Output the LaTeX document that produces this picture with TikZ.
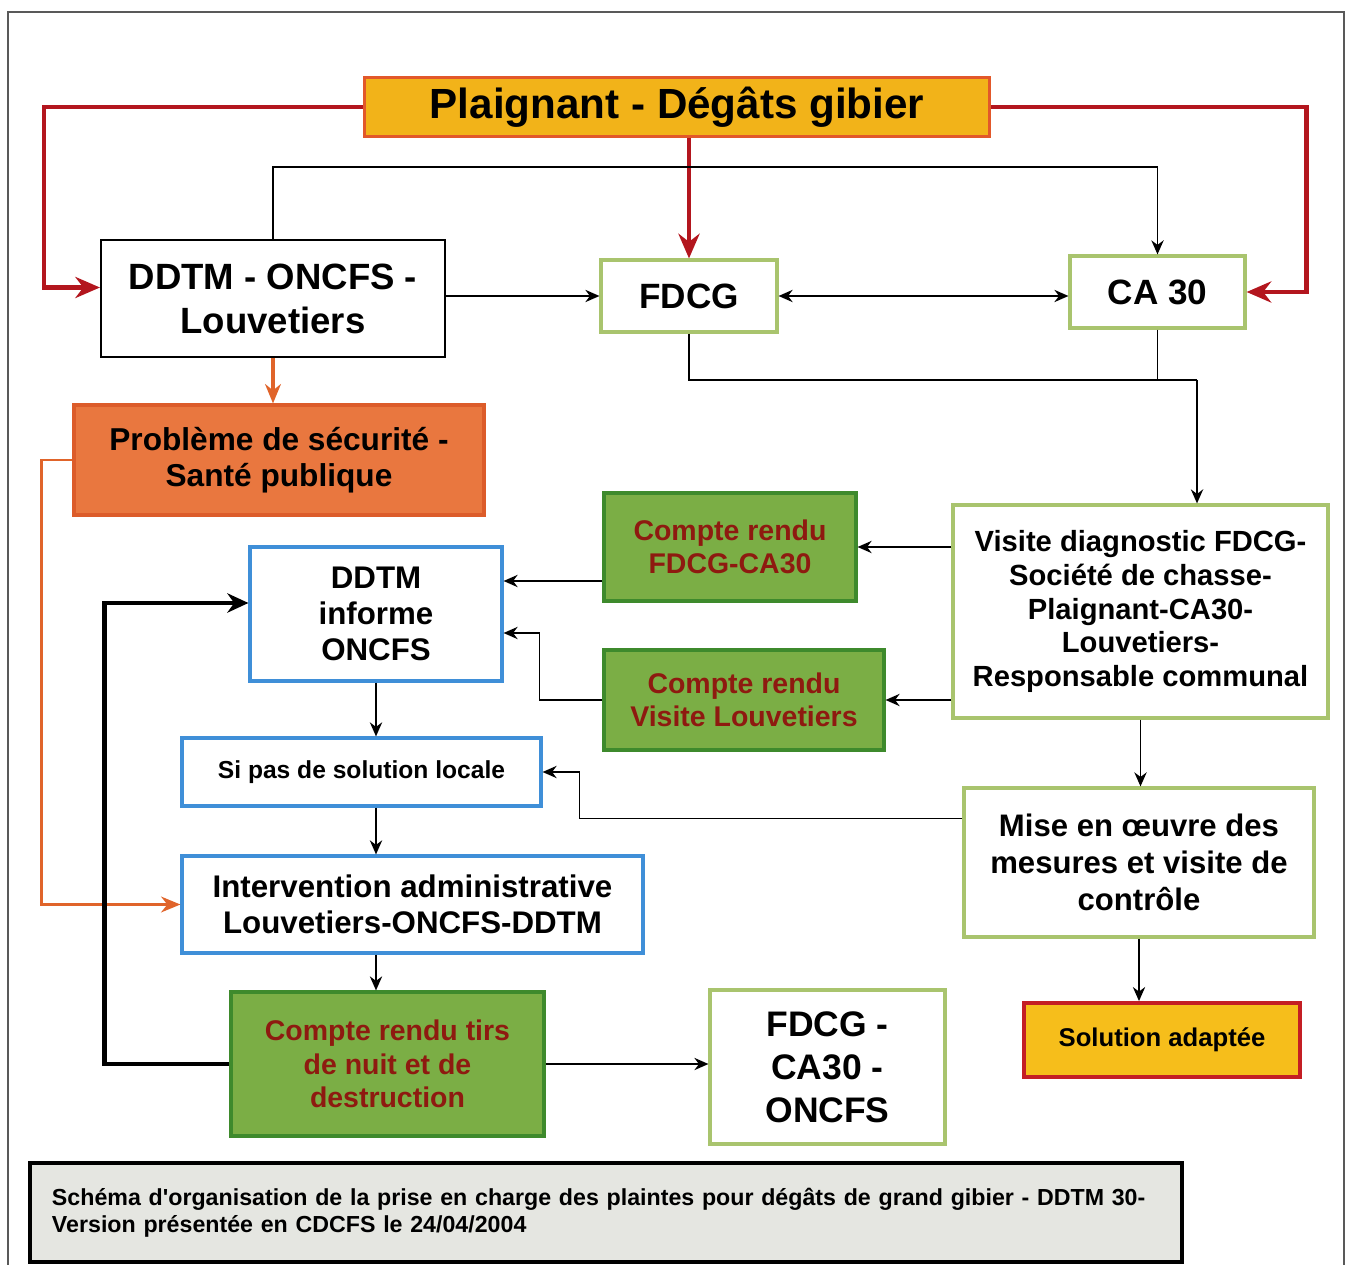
\documentclass[tikz,border=0pt]{standalone}
\usepackage{fontspec}
\setmainfont{Liberation Sans}
\usetikzlibrary{arrows.meta, positioning}

\definecolor{plaintgold}{HTML}{F2B319}
\definecolor{plaintedge}{HTML}{E2582A}
\definecolor{darkred}{HTML}{B3161E}
\definecolor{secufill}{HTML}{E9773F}
\definecolor{secuedge}{HTML}{DC5C2A}
\definecolor{crfill}{HTML}{7BAE45}
\definecolor{credge}{HTML}{3E8A2C}
\definecolor{crtext}{HTML}{8E1A10}
\definecolor{limeedge}{HTML}{A9C46E}
\definecolor{blueedge}{HTML}{3F8FD8}
\definecolor{solfill}{HTML}{F6BE1B}
\definecolor{soledge}{HTML}{C41E24}
\definecolor{capfill}{HTML}{E5E6E1}
\definecolor{orangeline}{HTML}{E0642A}

\tikzset{
  box/.style={draw, align=center, inner sep=0pt, font=\bfseries},
  whitebox/.style={box, fill=white, line width=0.6pt},
  limebox/.style={box, fill=white, draw=limeedge, line width=0.9pt},
  bluebox/.style={box, fill=white, draw=blueedge, line width=0.9pt},
  crbox/.style={box, fill=crfill, draw=credge, line width=0.9pt, text=crtext},
  thinarrow/.style={->, >={Stealth[length=4pt,width=3.5pt]}, line width=0.45pt},
  redarrow/.style={->, >={Stealth[length=7pt,width=6pt]}, line width=1.3pt, darkred},
}

\begin{document}
\begin{tikzpicture}
\useasboundingbox (0,0) rectangle (13.54,-12.65);
% outer frame
\draw[gray!70!black, line width=0.5pt] (0.08,-12.65) |- (13.44,-0.12) -- (13.44,-12.65);

% top box
\node[box, fill=plaintgold, draw=plaintedge, line width=1pt, minimum width=6.25cm, minimum height=0.59cm, font=\fontsize{12}{14}\bfseries] (plaint) at (6.77,-1.07) {Plaignant - Dégâts gibier};

% first row
\node[whitebox, minimum width=3.44cm, minimum height=1.17cm, font=\fontsize{10.4}{12.5}\bfseries] (ddtm) at (2.73,-2.985) {DDTM - ONCFS -\\Louvetiers};
\node[limebox, minimum width=1.76cm, minimum height=0.72cm, font=\fontsize{10}{12}\bfseries] (fdcg) at (6.89,-2.96) {FDCG};
\node[limebox, minimum width=1.75cm, minimum height=0.72cm, font=\fontsize{10}{12}\bfseries] (ca30) at (11.575,-2.92) {CA 30};

% safety box
\node[box, fill=secufill, draw=secuedge, line width=0.9pt, minimum width=4.10cm, minimum height=1.10cm, font=\fontsize{9}{10.4}\bfseries] (secu) at (2.79,-4.60) {Problème de sécurité -\\Santé publique};

% reports and visit
\node[crbox, minimum width=2.52cm, minimum height=1.08cm, font=\fontsize{8.1}{9.4}\bfseries] (crfdcg) at (7.30,-5.47) {Compte rendu\\FDCG-CA30};
\node[crbox, minimum width=2.80cm, minimum height=1.00cm, font=\fontsize{8.1}{9.4}\bfseries] (crlouv) at (7.44,-7.00) {Compte rendu\\Visite Louvetiers};
\node[limebox, minimum width=3.75cm, minimum height=2.13cm, font=\fontsize{8.3}{9.6}\bfseries] (visite) at (11.405,-6.115) {Visite diagnostic FDCG-\\Société de chasse-\\Plaignant-CA30-\\Louvetiers-\\Responsable communal};

% left column
\node[bluebox, minimum width=2.52cm, minimum height=1.34cm, font=\fontsize{8.9}{10.3}\bfseries] (informe) at (3.76,-6.14) {DDTM\\informe\\ONCFS};
\node[bluebox, minimum width=3.59cm, minimum height=0.68cm, font=\fontsize{7}{8}\bfseries] (sipas) at (3.615,-7.72) {Si pas de solution locale};
\node[bluebox, minimum width=4.61cm, minimum height=0.97cm, font=\fontsize{8.9}{10.2}\bfseries] (interv) at (4.125,-9.045) {Intervention administrative\\Louvetiers-ONCFS-DDTM};
\node[crbox, minimum width=3.13cm, minimum height=1.44cm, font=\fontsize{8.1}{9.6}\bfseries] (crtirs) at (3.875,-10.64) {Compte rendu tirs\\de nuit et de\\destruction};
\node[limebox, minimum width=2.35cm, minimum height=1.54cm, font=\fontsize{10.1}{12.2}\bfseries] (fdcgca) at (8.275,-10.67) {FDCG -\\CA30 -\\ONCFS};

% right column
\node[limebox, minimum width=3.50cm, minimum height=1.49cm, font=\fontsize{8.85}{10.5}\bfseries] (mise) at (11.39,-8.625) {Mise en œuvre des\\mesures et visite de\\contrôle};
\node[box, fill=solfill, draw=soledge, line width=1.1pt, minimum width=2.76cm, minimum height=0.74cm, font=\fontsize{7.3}{9}\bfseries] (sol) at (11.62,-10.40) {Solution adaptée};

% caption
\node[box, fill=capfill, line width=1.4pt, align=left, text width=11.08cm, inner xsep=0.22cm, minimum height=0.99cm, font=\fontsize{6.6}{7.7}\bfseries] (caption) at (6.06,-12.125) {Schéma d\textquotesingle organisation de la prise en charge des plaintes pour dégâts de grand gibier - DDTM 30-\\Version présentée en CDCFS le 24/04/2004};

% red arrows from the plaintiff
\draw[redarrow] (plaint.west) -| ([xshift=-0.56cm,yshift=0.11cm]ddtm.west) -- ([yshift=0.11cm]ddtm.west);
\draw[redarrow] (fdcg.north |- plaint.south) -- (fdcg.north);
\draw[redarrow] (plaint.east) -| ([xshift=0.6cm]ca30.east) -- (ca30.east);

% first row links
\draw[thinarrow] (ddtm.north) -- ++(0,0.72) -| (ca30.north);
\draw[thinarrow] (ddtm.east |- fdcg.west) -- (fdcg.west);
\draw[thinarrow, <->] (fdcg.east) -- (fdcg.east -| ca30.west);

% down to the visit
\coordinate (join) at (11.97,-3.80);
\draw[line width=0.45pt] (fdcg.south) |- (join);
\draw[line width=0.45pt] (ca30.south) -- (ca30.south |- join);
\draw[thinarrow] (join) -- (join |- visite.north);

% visit to reports
\draw[thinarrow] (visite.west |- crfdcg.east) -- (crfdcg.east);
\draw[thinarrow] (visite.west |- crlouv.east) -- (crlouv.east);

% reports to DDTM
\coordinate (inA) at ([yshift=0.33cm]informe.east);
\coordinate (inB) at ([yshift=-0.19cm]informe.east);
\draw[thinarrow] (inA -| crfdcg.west) -- (inA);
\draw[thinarrow] (crlouv.west) -| ([xshift=0.36cm]inB) -- (inB);

% left column chain
\draw[thinarrow] (informe.south) -- (informe.south |- sipas.north);
\draw[thinarrow] (informe.south |- sipas.south) -- (informe.south |- interv.north);
\draw[thinarrow] (informe.south |- interv.south) -- (informe.south |- crtirs.north);

% measures back to local solution
\coordinate (miA) at ([yshift=0.44cm]mise.west);
\draw[thinarrow] (miA) -| ([xshift=0.37cm]sipas.east) -- (sipas.east);

% safety branch
\draw[->, >={Stealth[length=5.5pt,width=4.5pt]}, line width=0.9pt, orangeline] (ddtm.south) -- (ddtm.south |- secu.north);
\draw[->, >={Stealth[length=5.5pt,width=4.5pt]}, line width=0.8pt, orangeline] (secu.west) -- ++(-0.31,0) |- (interv.west);

% feedback of the night shooting report
\draw[->, >={Stealth[length=6pt,width=5.5pt]}, line width=1.2pt] (crtirs.west) -- ++(-1.25,0) |- ([yshift=0.11cm]informe.west);
\draw[thinarrow] (crtirs.east) -- (crtirs.east -| fdcgca.west);

% right column chain
\draw[thinarrow] (visite.south) -- (visite.south |- mise.north);
\draw[thinarrow] (mise.south) -- (mise.south |- sol.north);
\end{tikzpicture}
\end{document}
